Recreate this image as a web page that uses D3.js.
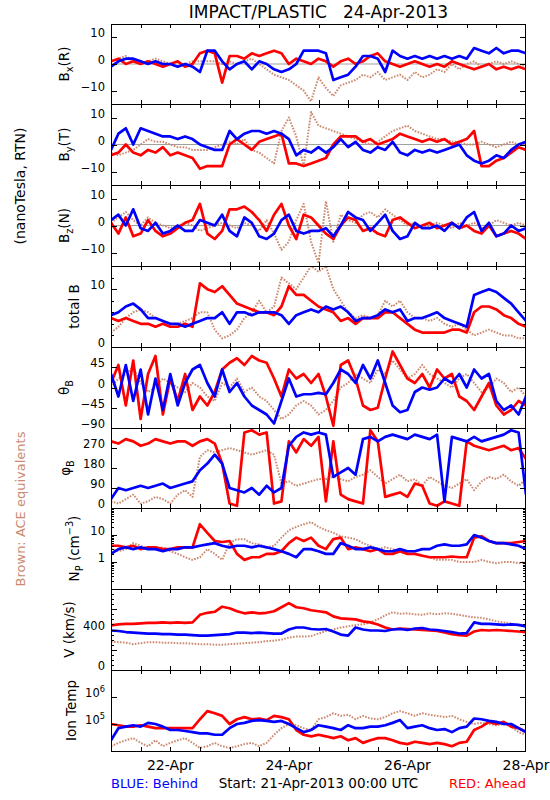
<!DOCTYPE html>
<html><head><meta charset="utf-8">
<script src="https://cdn.jsdelivr.net/npm/d3@7"></script>
<style>
body{margin:0;background:#fff}
svg{display:block}
text{font-family:"DejaVu Sans",sans-serif;fill:#000}
</style>
</head><body>
<svg id="c" width="550" height="800"></svg>
<script>
// ---- time grid (hours since 21-Apr-2013 00:00 UTC) ----
const hours = [0,3,6,9,12,15,18,21,24,27,30,33,36,39,42,45,48,51,54,57,60,63,66,69,72,75,78,81,84,87,90,93,96,99,102,105,108,111,114,117,120,123,126,129,132,135,138,141,144,147,150,153,156,159,162,165,168];

// ---- Bx (R) nT ----
const bxBlue  = [-1,1,2,2,1,0,1,0,0,-1, 0,-1,-3,5,5,1,-2,0,1,-2, 1,0,-2,-3,-2,0,5,5,5,4, -6,-5,-4,-1,3,3,2,-3,5,3, 2,3,2,3,2,3,2,3,2,6, 5,4,6,4,5,5,4];
const bxRed   = [1,2,0,1,0,1,0,-1,0,1, -1,0,4,5,4,-7,3,3,2,4, 3,4,5,4,0,2,1,0,2,1, -1,1,2,0,1,3,4,1,0,-1, 0,1,0,-1,0,-1,1,0,-1,-2, -1,0,-2,-1,-2,-1,-2];
const bxBrown = [1,2,3,1,0,1,2,1,0,-1, 0,1,1,1,1,0,1,0,1,2, 0,-2,-4,-5,-6,-8,-10,-14,-5,-9, -12,-8,-7,-6,-4,-5,-3,-6,-5,-4, -6,-3,-5,-4,-2,-3,0,-2,0,1, -1,0,1,0,1,0,-1];
// ---- By (T) nT ----
const byBlue  = [-2,4,6,0,6,5,4,3,3,2, 3,2,0,-1,-2,-2,5,2,4,5, 5,4,5,4,2,-4,-2,-3,-1,-3, -1,2,-1,1,-2,-3,-1,-2,1,-3, -4,-2,-3,-2,-3,-2,-1,0,-4,-6, -7,-6,-4,-5,-2,0,1];
const byRed   = [-4,-3,0,-3,-4,-2,-3,-1,-4,-3, -4,-5,-9,-8,-8,-8,0,2,0,-2, 1,2,3,4,-7,-7,-8,-7,-6,-5, 0,3,3,3,1,2,0,1,2,4, 3,2,1,2,1,2,0,1,2,5, -8,-8,-6,-5,-3,-1,-2];
const byBrown = [-3,-4,-3,-2,0,2,1,1,0,-1, -1,-2,-2,-2,-1,0,1,0,2,-2, -3,-5,-7,5,10,3,-8,12,7,6, 5,4,3,2,1,0,1,3,5,6, 7,5,4,3,2,2,1,1,0,0, 1,0,-1,0,1,0,0];
// ---- Bz (N) nT ----
const bzBlue  = [2,4,0,6,-1,-2,1,-3,-2,0, -2,-2,2,1,0,4,-2,-4,3,1, -4,-5,-3,2,4,-2,-3,-2,-2,-1, -4,0,5,3,2,-2,1,4,-2,-5, -4,1,-1,-1,0,-2,1,-1,3,5, -2,1,-4,-3,0,-2,-1];
const bzRed   = [1,-3,3,-4,-3,2,-2,-4,-3,-1, 1,2,8,-3,-5,-2,6,6,7,5, 2,-2,4,8,0,-5,4,3,0,-3, -5,0,3,2,-2,-1,-3,-4,2,3, 1,-1,0,1,-1,0,1,-1,0,-2, -3,0,-4,-3,-2,-3,-5];
const bzBrown = [1,3,5,2,0,3,1,0,-1,0, 1,0,-2,-1,0,1,0,-1,1,0, -2,2,-3,-9,-6,2,8,-6,-14,9, -6,4,2,1,4,5,3,6,4,2, 0,1,-1,0,1,0,-1,1,0,1, -1,0,2,1,0,1,0];
// ---- total B nT ----
const btBlue  = [5.5,6,7,7.5,6.5,5,5,4.5,4,4, 3.5,4,4.5,5,5,6,4,6,6,5.5, 6,6,6,5.5,4,5.5,6,6.5,6,7, 6.5,7,6,4.5,5,5,5.5,6.5,6,6.5, 4.5,5,5,5.5,6,5,4.5,4,3.5,9, 9.5,10,9.5,8.5,7.5,6,4.5];
const btRed   = [5,4.5,5,4.5,4,4,3.5,4,3.5,3.5, 4,3.5,11,10,9.5,10.5,9,7.5,7,6.5, 6,6,5.5,7,10.5,9,9,8,7,6.5, 6,4.5,5,4,5,5,5,6,6,5, 4,3,2.5,2.5,2.5,2.5,3,3,2.5,6, 7,7,6.5,5.5,5,4,3.5];
const btBrown = [2.5,3.5,5,6,6.5,6,5,4.5,4,4, 4.5,5,6,6,3,1.5,2,3,5,6, 8,6,7,12,11,10,12,14,13,14, 10,8,6,5,5.5,5,5.5,8,7,8, 6,5,5,4.5,5,4,3.5,4,3,2, 2.5,3,2.5,2,2,1.5,1.5];
// ---- theta_B deg ----
const thBlue  = [30,-20,50,-30,40,-60,20,-50,30,-40, 10,40,50,10,-20,40,-10,10,-20,-40, -50,-60,-80,-30,20,-20,-15,-15,-12,-15, 10,40,30,10,50,20,60,10,-40,-55, -50,-10,0,-5,0,20,10,30,0,40, 20,30,-30,-50,-40,-60,-20];
const thRed   = [10,50,-40,60,-70,30,70,-60,20,-30, 30,-50,-20,-40,-10,40,55,65,50,70, 60,55,20,-20,40,20,30,10,30,-20, -85,50,60,20,-40,-50,-45,20,80,50, 20,10,30,0,40,20,30,-20,-30,-50, -20,10,-40,-60,-50,-30,-40];
const thBrown = [0,20,30,45,10,-10,0,20,10,0, -10,10,0,-20,-30,10,0,20,-10,0, -20,-30,-50,-70,-60,-40,-30,-40,-60,-50, -30,0,10,30,20,10,40,30,60,40, 20,30,50,30,20,10,0,20,30,10, -10,0,20,10,-10,0,-20];
// ---- phi_B deg ----
const phBlue  = [40,90,80,90,100,90,100,110,90,100, 110,120,170,200,240,200,90,80,70,90, 60,100,70,90,280,320,340,330,340,330, 140,160,180,150,310,320,300,320,330,320, 310,330,320,310,330,30,320,310,300,320, 300,310,320,330,350,340,60];
const phRed   = [300,290,310,300,280,290,310,300,290,300, 300,280,300,310,290,200,20,10,340,350, 330,340,20,30,300,250,310,280,320,30, 300,60,40,30,20,350,300,50,60,70, 50,110,100,20,10,30,20,10,300,280, 270,260,270,280,260,270,220];
const phBrown = [30,20,40,60,20,30,50,40,20,60, 80,50,230,260,250,260,270,260,250,240, 250,260,240,110,120,100,110,120,130,130, 140,130,120,140,150,170,140,110,130,150, 120,130,100,140,120,100,90,110,130,80, 120,140,130,150,120,100,130];
// ---- Np cm^-3 ----
const npBlue  = [2,3,3.5,3,3.5,3,3,2.5,3,3, 3.5,3.5,4,4.5,5,4,3.5,4,4,3.5, 4,3.5,3,2.5,2,1.5,3,3,2.5,2, 2,5,4,3,3,3.5,3,2.5,2.5,3, 2.5,2.5,3,3,4,4.5,4,4,4.5,10, 8,6,5,5,4.5,4,3];
const npRed   = [4,4,3.5,4,3,3.5,3.5,3,3,3.5, 3.5,3.5,25,12,6,5.5,6,2,1.2,1.5, 1.5,2,2,2.5,5,8,6,8,4,3, 7,8,3,3.5,3,2.5,3,2,2,2.5, 2,2,1.7,1.5,1.5,1.5,1.6,1.5,1.5,8, 9,6,5,5,5,5.5,6];
const npBrown = [3,2.5,3,5,4,3,3,3.5,2.5,2, 1.5,1.2,1.5,3,2,1.2,5,7,7,5, 4.5,3.5,4,8,15,20,25,30,20,15, 12,9,8,7,5,4,3,3.5,3,2.5, 2,2,1.8,1.5,1.2,1.2,1.2,1,1,1, 1.2,1,0.9,1,1,0.9,1];
// ---- V km/s ----
const vBlue   = [390,385,375,370,365,360,360,355,355,350, 350,345,340,340,345,350,355,370,370,365, 370,365,360,360,400,420,420,405,400,405, 380,350,340,420,400,390,390,385,400,405, 395,410,415,400,395,385,375,360,365,470, 455,455,450,445,450,445,430];
const vRed    = [440,450,455,455,460,465,465,470,465,470, 465,470,545,565,575,625,610,580,560,570, 560,565,580,620,660,620,610,590,580,570, 530,510,505,500,480,470,450,420,400,410, 405,400,395,390,385,370,355,345,340,380, 395,390,395,390,385,380,375];
const vBrown  = [280,275,270,255,265,275,275,270,270,265, 265,260,255,255,250,250,255,260,265,270, 275,285,290,300,320,330,330,335,360,385, 400,420,430,445,450,470,500,540,570,555, 560,550,545,560,550,560,555,545,530,520, 515,500,480,470,460,440,430];
// ---- Ion temperature K ----
const tBlue   = [2.5e4,7e4,8e4,9e4,8e4,1.1e5,1e5,8e4,6e4,6e4, 5.5e4,5e4,4.5e4,4.5e4,4e4,4e4,7e4,1e5,1.1e5,1.3e5, 1.4e5,1.3e5,1.2e5,1.3e5,1e5,7e4,5e4,6e4,9e4,8e4, 7e4,6e4,9e4,7e4,7e4,8e4,8e4,9e4,1.1e5,1.4e5, 7e4,8e4,9e4,7e4,6e4,6.5e4,5e4,7e4,8e4,1.6e5, 1.5e5,1.3e5,1.2e5,1e5,1e5,7e4,5e4];
const tRed    = [1e5,9e4,8e4,8e4,9e4,8e4,7e4,7e4,7e4,7e4, 7e4,7e4,1.5e5,3e5,2.5e5,2e5,1e5,1.5e5,1.8e5,1.5e5, 1.6e5,1.4e5,2e5,1.8e5,1.5e5,6e4,4e4,3.5e4,4e4,3.5e4, 3e4,3.5e4,2.5e4,3e4,2e4,2.5e4,3e4,3e4,2.5e4,2e4, 1.8e4,2.2e4,2e4,1.8e4,2e4,1.8e4,1.5e4,2e4,2.2e4,6e4, 8e4,1.2e5,1e5,1.2e5,8e4,7e4,5e4];
const tBrown  = [1.5e4,2e4,2.5e4,3e4,2e4,1.5e4,2.5e4,1.5e4,2e4,2.5e4, 3e4,2e4,1.3e4,1.5e4,2e4,1.5e4,1.3e4,1.5e4,1.8e4,2e4, 1.5e4,2e4,4e4,7e4,1e5,9e4,7e4,6e4,1.5e5,1.8e5, 2.5e5,2e5,2.2e5,1.5e5,2e5,1.6e5,1.5e5,1.8e5,2.5e5,3e5, 2.5e5,2e5,2.5e5,2.2e5,2e5,1.8e5,2e5,1.5e5,1.2e5,1e5, 1.1e5,1e5,9e4,1e5,8e4,5e4,4e4];

// ---- axis tick labels ----
const xTickHours  = [24,72,120,168];
const xTickLabels = ["22-Apr","24-Apr","26-Apr","28-Apr"];

// ---- layout / style ----
const L = 111, R = 526, TOP = 23.6, PH = 80.8;
const COL = {blue:"#0000ff", red:"#ff0000", brown:"#cc8a70"};
const svg = d3.select("#c");
const x = d3.scaleLinear().domain([0,168]).range([L,R]);
const panelTop = k => Math.round(TOP + k*PH);

function parts(sel, list, size){
  let shift = 0;
  list.forEach(([s,mode])=>{
    const target = mode==="sub" ? size*0.32 : mode==="sup" ? -size*0.42 : 0;
    const ts = sel.append("tspan").text(s).attr("dy", target-shift);
    if(mode) ts.attr("font-size", size*0.72);
    shift = target;
  });
}

const panels = [
 {title:[["B"],["x","sub"],["(R)"]], tx:69, type:"lin", domain:[-15,15], major:[-10,0,10], minor:[],
  labels:[[10,[["10"]]],[0,[["0"]]],[-10,[["\u221210"]]]], zero:true, s:[bxBrown,bxRed,bxBlue]},
 {title:[["B"],["y","sub"],["(T)"]], tx:69, type:"lin", domain:[-15,15], major:[-10,0,10], minor:[],
  labels:[[10,[["10"]]],[0,[["0"]]],[-10,[["\u221210"]]]], zero:true, s:[byBrown,byRed,byBlue]},
 {title:[["B"],["z","sub"],["(N)"]], tx:69, type:"lin", domain:[-15,15], major:[-10,0,10], minor:[],
  labels:[[10,[["10"]]],[0,[["0"]]],[-10,[["\u221210"]]]], zero:true, s:[bzBrown,bzRed,bzBlue]},
 {title:[["total B"]], tx:79, type:"lin", domain:[0,14], major:[0,10], minor:[2,4,6,8,12],
  labels:[[10,[["10"]]],[0,[["0"]]]], s:[btBrown,btRed,btBlue]},
 {title:[["\u03b8"],["B","sub"]], tx:69, type:"lin", domain:[-90,90], major:[-90,-45,0,45,90], minor:[],
  labels:[[45,[["45"]]],[0,[["0"]]],[-45,[["\u221245"]]],[-90,[["\u221290"]]]], s:[thBrown,thRed,thBlue]},
 {title:[["\u03c6"],["B","sub"]], tx:70, type:"lin", domain:[0,360], major:[0,90,180,270,360], minor:[],
  labels:[[270,[["270"]]],[180,[["180"]]],[90,[["90"]]],[0,[["0"]]]], s:[phBrown,phRed,phBlue]},
 {title:[["N"],["P","sub"],[" (cm"],["\u22123","sup"],[")"]], tx:79, type:"log", domain:[0.1,100], major:[0.1,1,10,100],
  minor:[0.2,0.3,0.4,0.5,0.6,0.7,0.8,0.9,2,3,4,5,6,7,8,9,20,30,40,50,60,70,80,90],
  labels:[[10,[["10"]]],[1,[["1"]]]], s:[npBrown,npRed,npBlue]},
 {title:[["V (km/s)"]], tx:74, type:"lin", domain:[0,800], major:[0,200,400,600,800],
  minor:[50,100,150,250,300,350,450,500,550,650,700,750],
  labels:[[400,[["400"]]],[0,[["0"]]]], s:[vBrown,vRed,vBlue]},
 {title:[["Ion Temp"]], tx:76, type:"log", domain:[1e4,1e7], major:[1e4,1e5,1e6,1e7], minor:[],
  labels:[[1e6,[["10"],["6","sup"]]],[1e5,[["10"],["5","sup"]]]], s:[tBrown,tRed,tBlue]}
];

const x12 = [12,24,36,48,60,72,84,96,108,120,132,144,156];

panels.forEach((p,k)=>{
  const y0 = panelTop(k), y1 = panelTop(k+1);
  const y = (p.type==="log" ? d3.scaleLog() : d3.scaleLinear()).domain(p.domain).range([y1,y0]);
  const g = svg.append("g");
  const cid = "clip"+k;
  svg.append("clipPath").attr("id",cid).append("rect")
     .attr("x",L).attr("y",y0).attr("width",R-L).attr("height",y1-y0);
  const dg = g.append("g").attr("clip-path",`url(#${cid})`);
  if(p.zero){
    dg.append("line").attr("x1",L).attr("x2",R).attr("y1",y(0)).attr("y2",y(0))
      .attr("stroke","#a0a0a0").attr("stroke-width",1);
  }
  const line = d3.line().x((d,i)=>x(hours[i])).y(d=>y(d));
  const cols = [COL.brown, COL.red, COL.blue];
  p.s.forEach((arr,j)=>{
    const path = dg.append("path").datum(arr).attr("d",line)
      .attr("fill","none").attr("stroke",cols[j])
      .attr("stroke-width", j===0 ? 2 : 2.7)
      .attr("stroke-linejoin","round");
    if(j===0) path.attr("stroke-dasharray","1.6,1.4");
  });
  // axes (ticks point inward)
  const ax = g.append("g").attr("shape-rendering","crispEdges");
  const fmt0 = ()=>"";
  ax.append("g").attr("transform",`translate(${L},0)`).call(d3.axisLeft(y).tickValues(p.major).tickSize(-6).tickFormat(fmt0));
  ax.append("g").attr("transform",`translate(${R},0)`).call(d3.axisRight(y).tickValues(p.major).tickSize(-6).tickFormat(fmt0));
  if(p.minor.length){
    ax.append("g").attr("transform",`translate(${L},0)`).call(d3.axisLeft(y).tickValues(p.minor).tickSize(-3).tickFormat(fmt0));
    ax.append("g").attr("transform",`translate(${R},0)`).call(d3.axisRight(y).tickValues(p.minor).tickSize(-3).tickFormat(fmt0));
  }
  ax.append("g").attr("transform",`translate(0,${y0})`).call(d3.axisTop(x).tickValues(x12).tickSize(-4).tickFormat(fmt0));
  ax.append("g").attr("transform",`translate(0,${y1})`).call(d3.axisBottom(x).tickValues(x12).tickSize(-4).tickFormat(fmt0));
  ax.selectAll(".domain").remove();
  ax.selectAll("line").attr("stroke","#000");
  ax.append("rect").attr("x",L+0.5).attr("y",y0+0.5).attr("width",R-L-1).attr("height",y1-y0)
    .attr("fill","none").attr("stroke","#000").attr("stroke-width",1);
  // tick labels
  p.labels.forEach(([v,lab])=>{
    const t = g.append("text").attr("x",L-6).attr("y",y(v)).attr("dy","0.36em")
      .attr("text-anchor","end").attr("font-size",11.5);
    parts(t, lab, 11.5);
  });
  // panel title
  const cy = (y0+y1)/2;
  const tt = g.append("text").attr("x",p.tx).attr("y",cy).attr("text-anchor","middle")
    .attr("font-size",13.5).attr("transform",`rotate(-90,${p.tx},${cy})`);
  parts(tt, p.title, 13.5);
});

// x labels under bottom panel
xTickHours.forEach((h,i)=>{
  svg.append("text").attr("x",x(h)).attr("y",770).attr("text-anchor","middle")
    .attr("font-size",14).text(xTickLabels[i]);
});

// title and annotations
svg.append("text").attr("x",(L+R)/2).attr("y",18).attr("text-anchor","middle")
  .attr("font-size",17).attr("xml:space","preserve").style("white-space","pre")
  .text("IMPACT/PLASTIC   24-Apr-2013");
svg.append("text").attr("x",L).attr("y",788).attr("font-size",13).style("fill",COL.blue).text("BLUE: Behind");
svg.append("text").attr("x",(L+R)/2).attr("y",788).attr("text-anchor","middle").attr("font-size",13.5)
  .text("Start: 21-Apr-2013 00:00 UTC");
svg.append("text").attr("x",R).attr("y",788).attr("text-anchor","end").attr("font-size",13).style("fill",COL.red).text("RED: Ahead");
svg.append("text").attr("x",25).attr("y",186).attr("text-anchor","middle").attr("font-size",14)
  .attr("transform","rotate(-90,25,186)").text("(nanoTesla, RTN)");
svg.append("text").attr("x",25).attr("y",509).attr("text-anchor","middle").attr("font-size",13)
  .attr("transform","rotate(-90,25,509)").style("fill",COL.brown).text("Brown: ACE equivalents");
</script>
</body></html>
